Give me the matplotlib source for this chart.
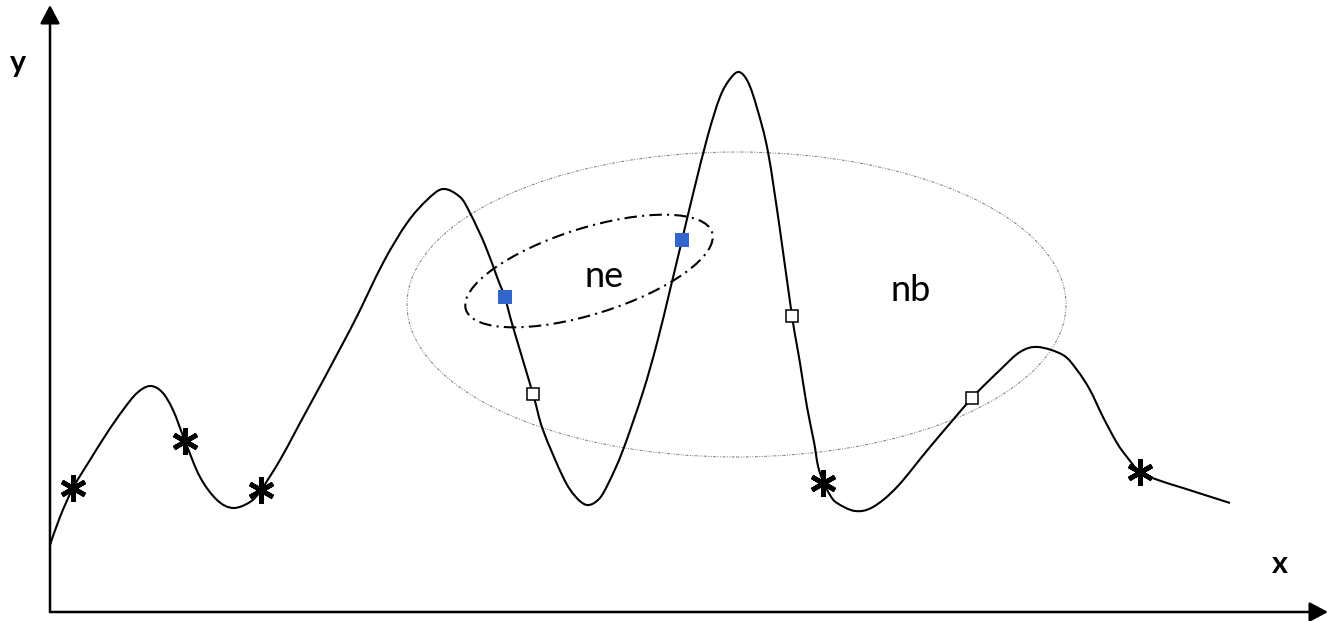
import matplotlib
matplotlib.use('Agg')
import matplotlib.pyplot as plt
from matplotlib.patches import Ellipse, PathPatch
from matplotlib.path import Path

# curve (origin at the axes corner, 1 unit = 1 px)
curve_x = [0, 10, 23, 40, 57, 73, 87, 100, 112, 123, 135, 150, 167, 183, 200, 211,
           230, 250, 300, 333, 357, 377, 393, 410, 420, 435, 447, 455, 463,
           483, 493, 513, 525, 537, 549, 559, 573, 593, 607, 620, 632, 644,
           658, 670, 680, 689, 698, 707, 718, 730, 742, 750, 757, 764, 768, 773, 780, 787,
           805, 823, 847, 880, 922, 950, 970, 988, 1013, 1027, 1040, 1053, 1067,
           1077, 1090, 1108, 1133, 1180]
curve_y = [67, 95, 124, 152, 179, 202, 219, 226, 220, 202, 171, 135, 112, 104, 110, 122,
           152, 189, 282, 349, 389, 412, 423, 415, 399, 367, 335, 314, 285,
           218, 182, 135, 116, 107, 113, 130, 162, 220, 269, 322, 372, 422,
           477, 515, 533, 540, 530, 504, 460, 382, 296, 249, 205, 170, 146, 131, 117, 109,
           101, 105, 125, 165, 214, 242, 260, 265, 257, 242, 222, 195, 169,
           155, 140, 132, 124, 109]

star_x = [23, 135, 211, 773, 1090]
star_y = [124, 171, 122, 129, 140]

open_x = [483, 742, 922]
open_y = [218, 296, 214]

blue_x = [455, 632]
blue_y = [315, 372]

fig = plt.figure(figsize=(13.29, 6.21), dpi=100)
ax = fig.add_axes([0, 0, 1, 1])
ax.set_xlim(-50, 1279)
ax.set_ylim(-9, 612)
ax.axis('off')

# neighbourhoods
nb = Ellipse((686.5, 307.5), 659, 305, fill=False, ec='#777777', lw=0.7,
             ls=(0, (3, 1.5, 1, 1.5, 1, 1.5)))
ax.add_patch(nb)
ne = Ellipse((539, 341), 258, 86, angle=17.4, fill=False, ec='black', lw=1.5,
             ls=(0, (6, 2.5, 1, 2.5)))
ax.add_patch(ne)

# smooth path through the read points (Catmull-Rom as cubic Bezier segments)
pts = list(zip(curve_x, curve_y))
verts = [pts[0]]
codes = [Path.MOVETO]
for i in range(len(pts) - 1):
    p0 = pts[i - 1] if i > 0 else pts[i]
    p1 = pts[i]
    p2 = pts[i + 1]
    p3 = pts[i + 2] if i + 2 < len(pts) else pts[i + 1]
    c1 = (p1[0] + (p2[0] - p0[0]) / 6, p1[1] + (p2[1] - p0[1]) / 6)
    c2 = (p2[0] - (p3[0] - p1[0]) / 6, p2[1] - (p3[1] - p1[1]) / 6)
    verts += [c1, c2, p2]
    codes += [Path.CURVE4] * 3
ax.add_patch(PathPatch(Path(verts, codes), fill=False, ec='black', lw=1.5))

ax.plot(star_x, star_y, ls='none', marker=(6, 2, 0), ms=19, mew=3.4, color='black')
ax.plot(open_x, open_y, ls='none', marker='s', ms=8, mew=1.1, mec='black', mfc='white')
ax.plot(blue_x, blue_y, ls='none', marker='s', ms=9.5, mew=0, color='#3366cc')

# axes with arrows
arrow = dict(arrowstyle='-|>,head_length=0.75,head_width=0.4', lw=1.8, color='black',
             shrinkA=0, shrinkB=0, mutation_scale=15)
ax.annotate('', xy=(0, 607), xytext=(0, 0), arrowprops=arrow)
ax.annotate('', xy=(1278, 0), xytext=(0, 0), arrowprops=arrow)

ax.text(-32, 540, 'y', fontsize=22, fontweight='bold', family='Lato', ha='center', va='baseline')
ax.text(1230, 39, 'x', fontsize=22, fontweight='bold', family='Lato', ha='center', va='baseline')
ax.text(554, 325, 'ne', fontsize=26, family='Lato', ha='center', va='baseline')
ax.text(861, 311, 'nb', fontsize=26, family='Lato', ha='center', va='baseline')

fig.savefig('out.png', dpi=100)
